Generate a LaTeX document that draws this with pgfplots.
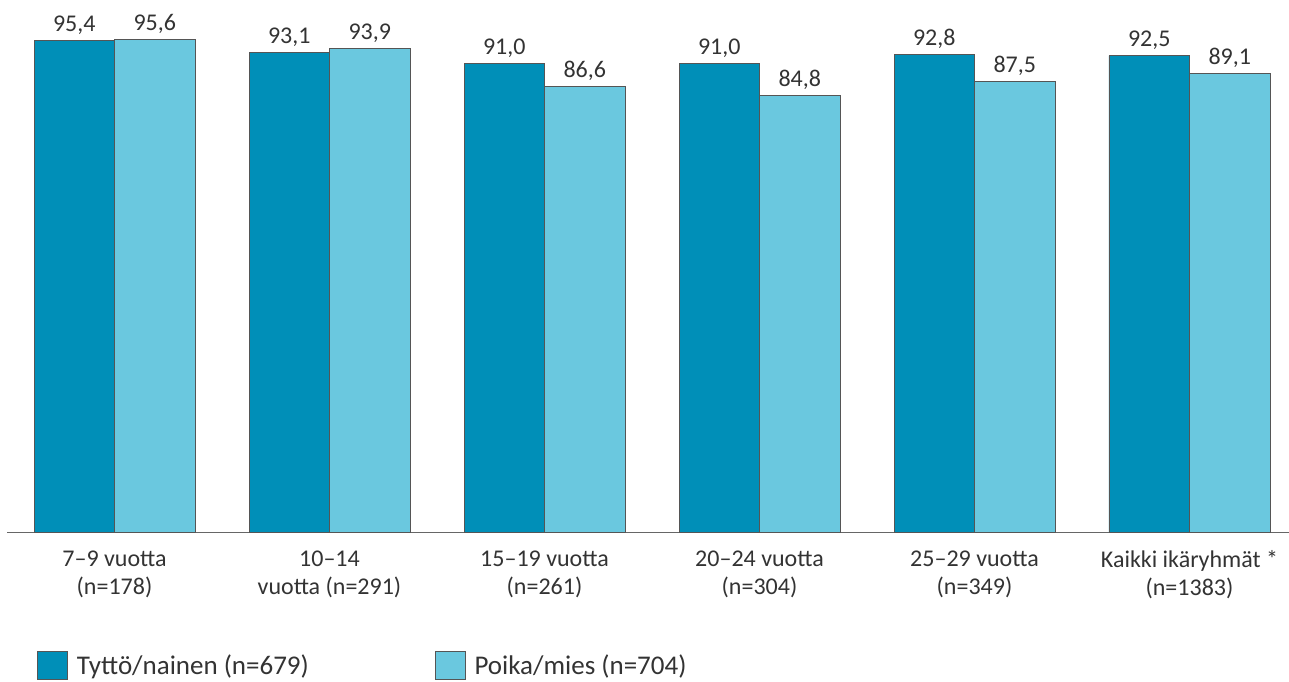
\documentclass[border=0pt]{standalone}
\usepackage{pgfplots}
\pgfplotsset{compat=1.18}
\usepackage{fontspec}
\setmainfont{Carlito}
\definecolor{darkb}{HTML}{008FB8}
\definecolor{lightb}{HTML}{6AC8DF}
\definecolor{edge}{HTML}{555555}
\definecolor{txt}{HTML}{333333}
\begin{document}
\begin{tikzpicture}
\useasboundingbox (-7pt,-149pt) rectangle (1282pt,532pt);
\begin{axis}[
  at={(107.5pt,0pt)}, anchor=origin,
  scale only axis, width=1290pt, height=515pt,
  xmin=-0.5, xmax=5.5, ymin=0, ymax=100,
  ybar=0pt, bar width=80.5pt,
  axis y line=none, axis x line*=bottom,
  x axis line style={draw=gray!80!black, line width=0.9pt, -},
  xtick={0,1,2,3,4,5}, major tick length=0pt,
  xticklabels={{7–9 vuotta\\(n=178)},{10–14\\vuotta (n=291)},{15–19 vuotta\\(n=261)},{20–24 vuotta\\(n=304)},{25–29 vuotta\\(n=349)},{Kaikki ikäryhmät *\\(n=1383)}},
  xticklabel style={align=center, font=\fontsize{24}{28}\selectfont, text=txt, yshift=-15pt},
  nodes near coords,
  nodes near coords style={font=\fontsize{24}{28}\selectfont, text=txt, yshift=2pt, /pgf/number format/.cd, fixed, fixed zerofill, precision=1, use comma, assume math mode=true},
  /pgf/number format/assume math mode=true,
  legend columns=2,
  legend style={at={(0.0233,-0.258)}, anchor=west, draw=none, fill=none, inner sep=0pt, font=\fontsize{27}{30}\selectfont, text=txt,
    /tikz/every odd column/.append style={column sep=7pt},
    /tikz/every even column/.append style={column sep=124pt}},
  legend image code/.code={\draw[#1, line width=0.6pt] (0pt,-14pt) rectangle (30pt,14pt);},
]
\addplot[fill=darkb, draw=edge, line width=0.6pt] coordinates {(0,95.4) (1,93.1) (2,91.0) (3,91.0) (4,92.8) (5,92.5)};
\addplot[fill=lightb, draw=edge, line width=0.6pt] coordinates {(0,95.6) (1,93.9) (2,86.6) (3,84.8) (4,87.5) (5,89.1)};
\legend{Tyttö/nainen (n=679), Poika/mies (n=704)}
\end{axis}
\end{tikzpicture}
\end{document}
